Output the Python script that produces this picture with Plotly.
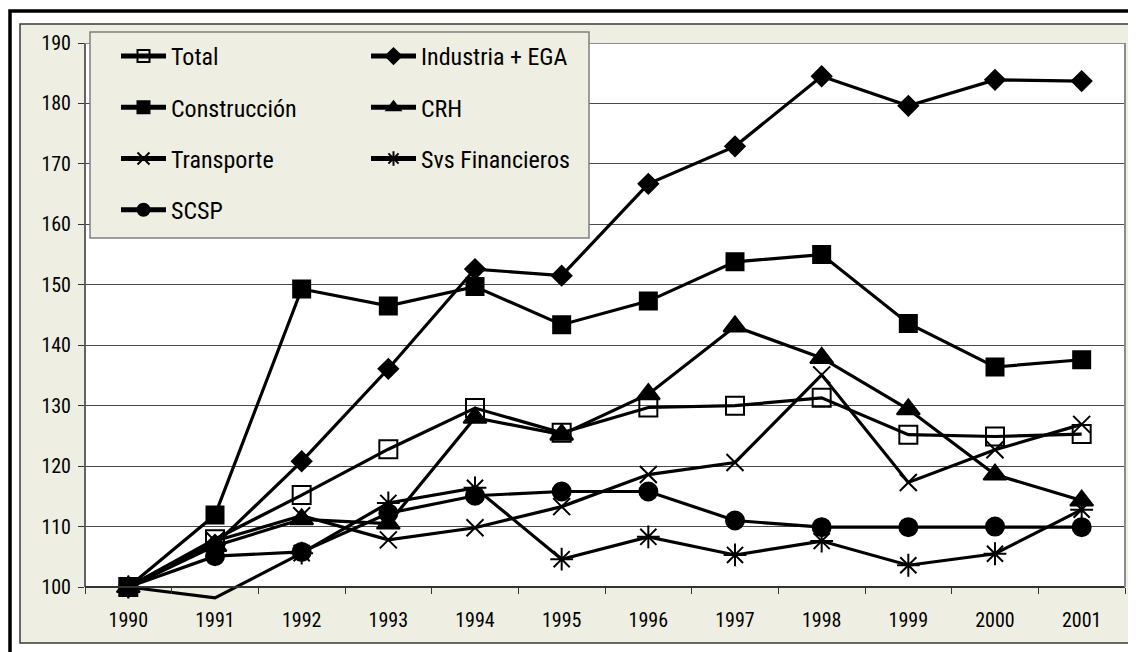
import plotly.graph_objects as go

# ---------------- data ----------------
years = ["1990", "1991", "1992", "1993", "1994", "1995", "1996", "1997", "1998", "1999", "2000", "2001"]
total = [100, 107.9, 115.2, 122.8, 129.6, 125.5, 129.7, 130.0, 131.3, 125.2, 124.9, 125.3]
industria = [100, 107.0, 120.8, 136.1, 152.6, 151.5, 166.7, 172.9, 184.5, 179.6, 183.9, 183.7]
construccion = [100, 111.9, 149.3, 146.5, 149.7, 143.4, 147.3, 153.8, 155.0, 143.6, 136.4, 137.6]
crh = [100, 106.8, 111.2, 110.5, 128.0, 125.2, 131.9, 143.1, 137.9, 129.4, 118.6, 114.3]
transporte = [100, 107.6, 111.8, 107.8, 109.8, 113.3, 118.6, 120.6, 135.1, 117.3, 122.7, 126.9]
svs_financieros = [100, 98.2, 105.6, 113.9, 116.4, 104.6, 108.3, 105.3, 107.6, 103.6, 105.5, 112.8]
scsp = [100, 105.1, 105.8, 112.2, 115.1, 115.8, 115.8, 111.0, 109.9, 109.9, 110.0, 109.9]
y_ticks = [100, 110, 120, 130, 140, 150, 160, 170, 180, 190]

# ---------------- geometry (screen pixels of the page) ----------------
W, H = 1136, 652
PAGE_OFF = 8                     # default body margin of the html page
PL, PR, PT, PB = 85, 1125, 43, 605   # plot area on screen (PB = extended bottom)
AXIS_PX = 587                    # screen row of value 100 (visible x axis)
ML = PL - PAGE_OFF
MR = W - (PR - PAGE_OFF)
MT = PT - PAGE_OFF
MB = H - (PB - PAGE_OFF)
Y_LO, Y_HI = 100, 190
ppu = (AXIS_PX - PT) / (Y_HI - Y_LO)
y_min = Y_LO - (PB - AXIS_PX) / ppu


def px_x(sx):
    return (sx - PL) / (PR - PL)


def px_y(sy):
    return (PB - sy) / (PB - PT)


FONT = ("Roboto Condensed, Noto Sans ExtraCondensed, Noto Sans Condensed, "
        "Liberation Sans Narrow, Arial Narrow, DejaVu Sans Condensed, Liberation Sans, sans-serif")
BEIGE = "#EEEEE2"

series = [
    ("Total", total, "square-open", 18, "legend"),
    ("Industria + EGA", industria, "diamond", 15, "legend2"),
    ("Construcción", construccion, "square", 17, "legend"),
    ("CRH", crh, "triangle-up", 20, "legend2"),
    ("Transporte", transporte, "x-thin-open", 17, "legend"),
    ("Svs Financieros", svs_financieros, "asterisk-open", 19, "legend2"),
    ("SCSP", scsp, "circle", 18, "legend"),
]

fig = go.Figure()
for name, vals, sym, size, leg in series:
    sizes = [size if v >= Y_LO else 0 for v in vals]
    fig.add_trace(go.Scatter(
        x=years, y=vals, name=name, mode="lines+markers",
        line=dict(color="black", width=3.2),
        marker=dict(symbol=sym, size=sizes, color="black", opacity=1,
                    line=dict(color="black", width=2)),
        legend=leg, legendgroup=name, cliponaxis=False,
    ))

shapes = [
    # outer black frame
    dict(type="rect", xref="paper", yref="paper", layer="below",
         x0=px_x(10), x1=px_x(1180), y0=px_y(690), y1=px_y(11),
         line=dict(color="black", width=3.5), fillcolor="rgba(0,0,0,0)"),
    # chart area (beige)
    dict(type="rect", xref="paper", yref="paper", layer="below",
         x0=px_x(20), x1=px_x(1170), y0=px_y(643), y1=px_y(24),
         line=dict(color="#3a3a3a", width=1.5), fillcolor=BEIGE),
    # white plot area
    dict(type="rect", xref="paper", yref="y", layer="below",
         x0=0, x1=1, y0=Y_LO, y1=Y_HI,
         line=dict(width=0), fillcolor="white"),
    # y axis line
    dict(type="line", xref="paper", yref="y", layer="below",
         x0=0, x1=0, y0=Y_LO, y1=Y_HI,
         line=dict(color="#333333", width=1.5)),
    # plot area border: top and right (grey)
    dict(type="line", xref="paper", yref="y", layer="above",
         x0=0, x1=1, y0=Y_HI, y1=Y_HI,
         line=dict(color="#8c8c8c", width=2)),
    dict(type="line", xref="paper", yref="y", layer="above",
         x0=1, x1=1, y0=Y_LO, y1=Y_HI,
         line=dict(color="#8c8c8c", width=2)),
    # legend box
    dict(type="rect", xref="paper", yref="paper", layer="above",
         x0=px_x(90), x1=px_x(589), y0=px_y(238), y1=px_y(32),
         line=dict(color="#7f7f7f", width=1.5), fillcolor=BEIGE),
]

legend_common = dict(
    xanchor="left", yanchor="top", bgcolor="rgba(0,0,0,0)", borderwidth=0,
    font=dict(family=FONT, size=24, color="black"), tracegroupgap=17,
    itemsizing="constant", itemwidth=45, traceorder="grouped",
)

fig.update_layout(
    width=W, height=H,
    margin=dict(l=ML, r=MR, t=MT, b=MB, pad=0),
    paper_bgcolor="white",
    plot_bgcolor="rgba(0,0,0,0)",
    showlegend=True,
    font=dict(family=FONT, size=20, color="black"),
    xaxis=dict(
        type="category", range=[-0.5, len(years) - 0.5],
        anchor="free", position=(Y_LO - y_min) / (Y_HI - y_min),
        showgrid=False, showline=True, linecolor="#333333", linewidth=1.5,
        ticks="outside", tickson="boundaries", ticklen=6, tickcolor="#333333",
        tickfont=dict(family=FONT, size=20, color="black"),
        ticklabelstandoff=15, zeroline=False, fixedrange=True,
    ),
    yaxis=dict(
        range=[y_min, Y_HI], tickvals=y_ticks, ticktext=[str(t) for t in y_ticks],
        showgrid=True, gridcolor="#4a4a4a", gridwidth=1.2,
        showline=False, zeroline=False,
        ticks="outside", ticklen=6, tickcolor="#333333",
        tickfont=dict(family=FONT, size=20, color="black"),
        ticklabelstandoff=3, fixedrange=True,
    ),
    legend=dict(x=px_x(116), y=px_y(34), **legend_common),
    legend2=dict(x=px_x(366), y=px_y(34), **legend_common),
    shapes=shapes,
)

fig.write_html("out.html")
